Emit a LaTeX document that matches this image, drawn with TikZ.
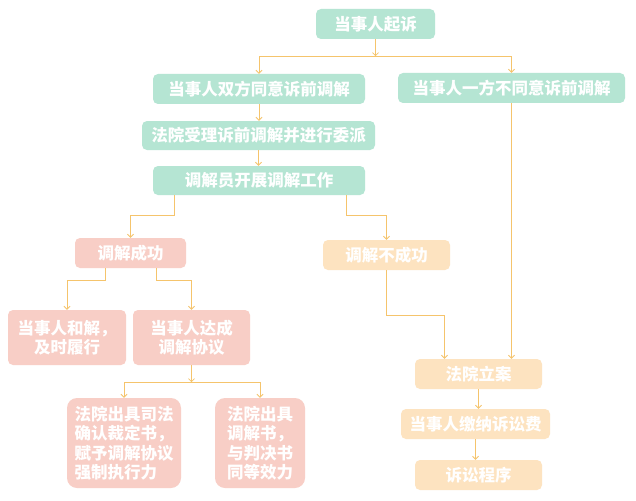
\documentclass[tikz,border=0pt]{standalone}
\usepackage{fontspec}
\setmainfont{Noto Sans CJK SC}
\usetikzlibrary{arrows.meta}
\definecolor{mint}{HTML}{B5E5D3}
\definecolor{blush}{HTML}{F8CEC6}
\definecolor{peach}{HTML}{FDE3C0}
\definecolor{flow}{HTML}{F5C46C}

\begin{document}
\begin{tikzpicture}[x=1pt, y=-1pt,
    box/.style = {rounded corners=5pt, text=white, inner sep=0pt, minimum height=30pt,
                  font=\fontsize{16.5}{19.5}\selectfont\bfseries},
    greenbox/.style = {box, fill=mint},
    pinkbox/.style = {box, fill=blush},
    peachbox/.style = {box, fill=peach},
    arr/.style = {draw=flow, line width=0.8pt, -{Straight Barb[length=3pt,width=6pt]}}]
      \useasboundingbox [fill=white] (0,0) rectangle (636,500);
      \node [greenbox, minimum width=119pt] (qs) at (375.5, 24) {当事人起诉};
      \node [greenbox, minimum width=212pt] (sf) at (259, 89) {当事人双方同意诉前调解};
      \node [greenbox, minimum width=227pt] (yf) at (511.5, 88) {当事人一方不同意诉前调解};
      \node [greenbox, minimum width=233pt, minimum height=29pt] (sl) at (258.5, 135.5) {法院受理诉前调解并进行委派};
      \node [greenbox, minimum width=212pt, minimum height=29pt] (tjy) at (259, 180.5) {调解员开展调解工作};
      \node [pinkbox, minimum width=111pt] (cg) at (130.5, 253) {调解成功};
      \node [peachbox, minimum width=127pt] (bcg) at (386.5, 255) {调解不成功};
      \node [pinkbox, minimum width=118pt, minimum height=55pt, align=center] (hj) at (67, 337.5) {当事人和解，\\及时履行};
      \node [pinkbox, minimum width=117pt, minimum height=55pt, align=center] (dc) at (191.5, 337.5) {当事人达成\\调解协议};
      \node [pinkbox, minimum width=114pt, minimum height=90pt, align=left, rounded corners=10pt] (sfqr) at (124, 443) {法院出具司法\\确认裁定书，\\赋予调解协议\\强制执行力};
      \node [pinkbox, minimum width=90pt, minimum height=90pt, align=left, rounded corners=10pt] (tjs) at (260, 443) {法院出具\\调解书，\\与判决书\\同等效力};
      \node [peachbox, minimum width=127pt] (la) at (478.5, 374) {法院立案};
      \node [peachbox, minimum width=149pt] (jn) at (475.5, 424) {当事人缴纳诉讼费};
      \node [peachbox, minimum width=127pt] (ss) at (478.5, 475) {诉讼程序};

      \coordinate (qsfork) at ([yshift=-17pt]qs.south);
      \draw [arr] (qs) -- (qsfork);
      \foreach \n in {sf, yf}
               {
                 \draw [arr] (qsfork) -| (\n);
               }
      \draw [arr] (sf.south) -- (sf.south |- sl.north);
      \draw [arr] (sl.south) -- (sl.south |- tjy.north);
      \draw [arr] ([xshift=-85pt]tjy.south) -- ++(0,-20pt) -| (cg);
      \draw [arr] ([xshift=87pt]tjy.south) -- ++(0,-20pt) -| (bcg);
      \draw [arr] ([xshift=-25.5pt]cg.south) -- ++(0,-12pt) -| (hj);
      \draw [arr] ([xshift=25.5pt]cg.south) -- ++(0,-12pt) -| (dc);
      \coordinate (dcfork) at ([yshift=-17pt]dc.south);
      \draw [arr] (dc) -- (dcfork);
      \foreach \n in {sfqr, tjs}
               {
                 \draw [arr] (dcfork) -| (\n);
               }
      \draw [arr] (bcg.south) -- ++(0,-45pt) -| ([xshift=-34pt]la.north);
      \draw [arr] (yf.south) -- (yf.south |- la.north);
      \draw [arr] (la.south) -- (la.south |- jn.north);
      \draw [arr] (jn.south) -- (jn.south |- ss.north);
\end{tikzpicture}
\end{document}
